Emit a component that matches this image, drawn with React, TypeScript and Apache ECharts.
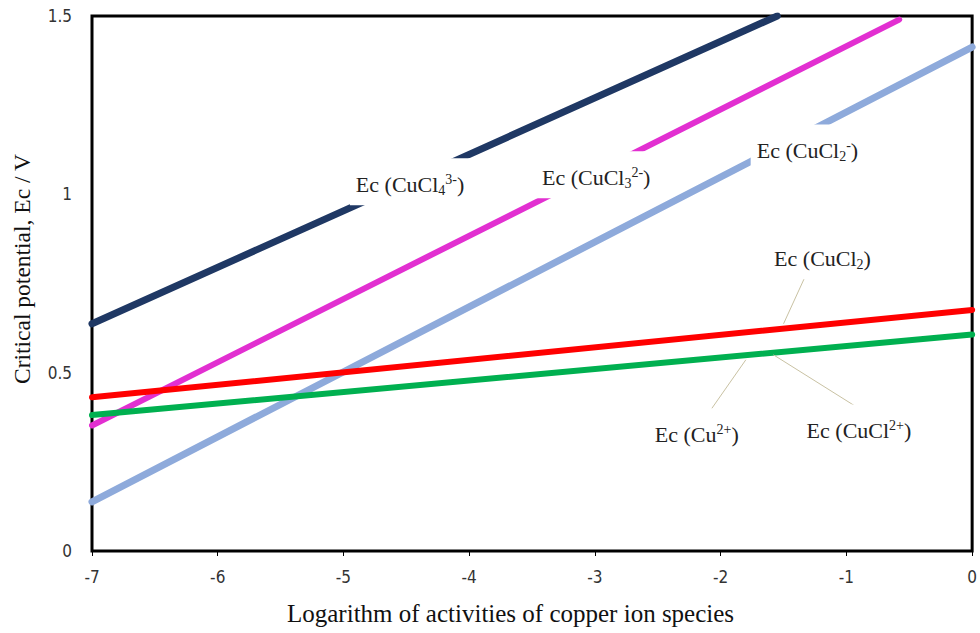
import React, { useEffect, useRef } from "react";
import * as echarts from "echarts";

// Critical potential lines, Ec (V) vs log activity, one per copper species
const xRange = [-7, 0];
const yTicks = [0, 0.5, 1, 1.5];

const cuCl4Line = [[-7, 0.637], [-1.55, 1.5]];
const cuCl3Line = [[-7, 0.352], [-0.58, 1.49]];
const cuCl2mLine = [[-7, 0.138], [0, 1.413]];
const cu2Line = [[-7, 0.431], [0, 0.676]];
const cuCl2pLine = [[-7, 0.381], [0, 0.607]];

// Label anchors (data coordinates) and their rich-text content
const speciesLabels = [
  { at: [-4.47, 1.035], text: "Ec (CuCl{sub|4}{sup|3-})" },
  { at: [-2.99, 1.055], text: "Ec (CuCl{sub|3}{sup|2-})" },
  { at: [-1.31, 1.13], text: "Ec (CuCl{sub|2}{sup|-})" },
  { at: [-1.19, 0.828], text: "Ec (CuCl{sub|2})" },
  { at: [-2.19, 0.334], text: "Ec (Cu{sup|2+})" },
  { at: [-0.9, 0.345], text: "Ec (CuCl{sup|2+})" },
];

// Leader lines from callout labels to their curves
const leaders = [
  [[-1.33, 0.768], [-1.5, 0.637]],
  [[-2.08, 0.395], [-1.8, 0.536]],
  [[-0.92, 0.404], [-1.58, 0.55]],
];

const serif = "'Liberation Serif', 'Times New Roman', serif";
const narrow = "'Liberation Sans Narrow', 'DejaVu Sans Condensed', 'Liberation Sans', sans-serif";

export default function App() {
  const ref = useRef<HTMLDivElement>(null);

  useEffect(() => {
    if (!ref.current) return;
    const chart = echarts.init(ref.current, null, { renderer: "svg" });

    const curve = (name: string, data: number[][], color: string, width: number) => ({
      name,
      type: "line",
      data,
      showSymbol: false,
      symbol: "none",
      z: 2,
      lineStyle: { color, width, cap: "round" },
    });

    const leaderSeries = leaders.map((seg, i) => ({
      name: "leader" + i,
      type: "line",
      data: seg,
      symbol: "none",
      z: 3,
      lineStyle: { color: "#c9c2a3", width: 1 },
    }));

    const option: any = {
      animation: false,
      backgroundColor: "#fff",
      grid: {
        left: 92,
        right: 4,
        top: 16,
        bottom: 82,
        show: true,
        borderColor: "#000",
        borderWidth: 3,
        containLabel: false,
      },
      xAxis: {
        type: "value",
        min: xRange[0],
        max: xRange[1],
        interval: 1,
        axisLine: { show: false },
        axisTick: { show: true, inside: false, length: 5, lineStyle: { color: "#000", width: 1 } },
        splitLine: { show: false },
        axisLabel: { fontFamily: narrow, fontSize: 17, color: "#333", margin: 17 },
      },
      yAxis: {
        type: "value",
        min: yTicks[0],
        max: yTicks[yTicks.length - 1],
        interval: 0.5,
        axisLine: { show: false },
        axisTick: { show: false },
        splitLine: { show: false },
        axisLabel: { fontFamily: narrow, fontSize: 17, color: "#333", margin: 20 },
      },
      graphic: [
        {
          type: "text",
          left: 287,
          top: 601,
          style: {
            text: "Logarithm of activities of copper ion species",
            font: `25px ${serif}`,
            fill: "#111",
          },
        },
        {
          type: "text",
          x: 10,
          y: 384,
          rotation: Math.PI / 2,
          style: {
            text: "Critical potential, Ec / V",
            font: `23.5px ${serif}`,
            fill: "#111",
          },
        },
      ],
      series: [
        curve("Ec (CuCl4 3-)", cuCl4Line, "#1f3864", 7),
        curve("Ec (CuCl3 2-)", cuCl3Line, "#e22fd1", 6),
        curve("Ec (CuCl2 -)", cuCl2mLine, "#8eaadb", 7),
        curve("Ec (Cu 2+)", cu2Line, "#ff0000", 6),
        curve("Ec (CuCl 2+)", cuCl2pLine, "#00b050", 6),
        ...leaderSeries,
        {
          name: "labels",
          type: "scatter",
          symbolSize: 0,
          z: 10,
          silent: true,
          itemStyle: { opacity: 1, color: "#fff" },
          data: speciesLabels.map((l) => ({ value: l.at, labelText: l.text })),
          label: {
            show: true,
            position: "inside",
            opacity: 1,
            formatter: (p: any) => p.data.labelText,
            backgroundColor: "#fff",
            padding: [14, 6, 8, 6],
            fontFamily: serif,
            fontSize: 22,
            color: "#222",
            rich: {
              sub: { fontFamily: serif, fontSize: 14, color: "#222", padding: [11, 0, 0, 0] },
              sup: { fontFamily: serif, fontSize: 14, color: "#222", padding: [0, 0, 11, 0] },
            },
          },
        },
      ],
    };

    chart.setOption(option);
    return () => chart.dispose();
  }, []);

  return <div ref={ref} style={{ width: 980, height: 633, position: "absolute", left: 0, top: 0 }} />;
}
